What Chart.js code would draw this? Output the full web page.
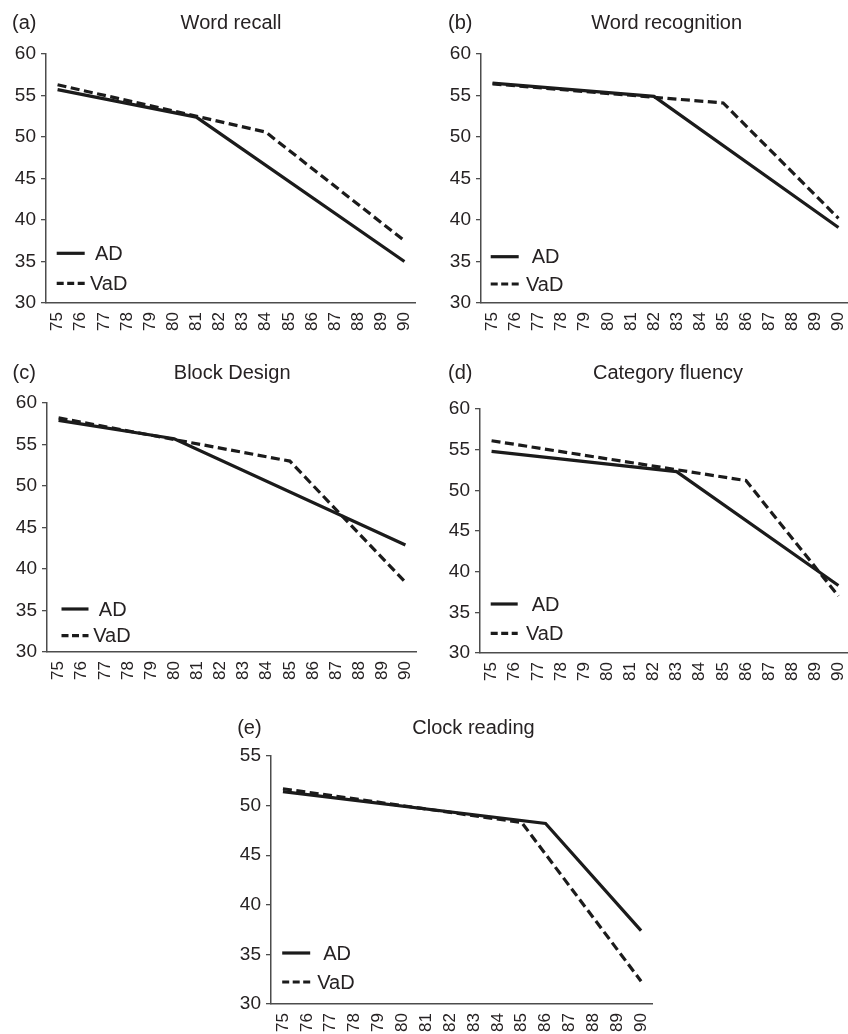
<!DOCTYPE html>
<html>
<head>
<meta charset="utf-8">
<script src="https://cdn.jsdelivr.net/npm/chart.js@4.4.1/dist/chart.umd.min.js"></script>
<style>
  html, body { margin: 0; padding: 0; background: #fff; overflow: hidden; }
  #page { position: relative; width: 848px; height: 1034px; }
  #page canvas { position: absolute; }
</style>
</head>
<body>
<div id="page"></div>
<script>
// ages on the x axis
const ages = ["75", "76", "77", "78", "79", "80", "81", "82", "83", "84", "85", "86", "87", "88", "89", "90"];
const _ = null;

// values read at the change points only, straight segments join them
//                  75 76 77 78 79 80 81    82    83    84    85    86    87 88 89 90
const recallAD   = [55.7, _, _, _, _, _, 52.4, _,    _,    _,    _,    _,    _, _, _, 35.0];
const recallVaD  = [56.3, _, _, _, _, _, _,    _,    _,    50.6, _,    _,    _, _, _, 37.5];
const recogAD    = [56.5, _, _, _, _, _, _,    54.9, _,    _,    _,    _,    _, _, _, 39.1];
const recogVaD   = [56.4, _, _, _, _, _, _,    _,    _,    _,    54.1, _,    _, _, _, 40.2];
const blockAD    = [57.9, _, _, _, _, 55.7, _, _,    _,    _,    _,    _,    _, _, _, 42.9];
const blockVaD   = [58.2, _, _, _, _, _, _,    _,    _,    _,    53.0, _,    _, _, _, 38.4];
const fluencyAD  = [54.8, _, _, _, _, _, _,    _,    52.3, _,    _,    _,    _, _, _, 38.3];
const fluencyVaD = [56.1, _, _, _, _, _, _,    _,    _,    _,    _,    51.2, _, _, _, 37.0];
const clockAD    = [51.4, _, _, _, _, _, _,    _,    _,    _,    _,    48.2, _, _, _, 37.4];
const clockVaD   = [51.7, _, _, _, _, _, _,    _,    _,    _,    48.3, _,    _, _, _, 32.3];

const seriesNames = ["AD", "VaD"];
const yTicks = [30, 35, 40, 45, 50, 55, 60];

const INK = "#1b1b1b";
const TEXT = "#262223";
const AXIS = "#4d4d4d";
const FONT = "'Liberation Sans', Arial, Helvetica, sans-serif";
const DASH = [9, 4.5];

const Y_W = 46;   // room for y tick labels
const X_H = 40;   // room for rotated x labels
const TOP = 54;   // room above plot for the title

// page positions (chart area, title, letter, legend) per panel
const panels = [
  { letter: "(a)", title: "Word recall", ad: recallAD, vad: recallVaD, yMax: 60,
    area: { l: 46, t: 54, r: 415.6, b: 303 }, titleX: 231, titleY: 23, letterX: 12,
    leg: { x: 56.7, len: 28, adY: 253.3, adX: 95, vadY: 283.3, vadX: 90 } },
  { letter: "(b)", title: "Word recognition", ad: recogAD, vad: recogVaD, yMax: 60,
    area: { l: 481, t: 54, r: 850, b: 303 }, titleX: 666.7, titleY: 23, letterX: 448,
    leg: { x: 490.7, len: 28, adY: 256.7, adX: 531.7, vadY: 284, vadX: 526 } },
  { letter: "(c)", title: "Block Design", ad: blockAD, vad: blockVaD, yMax: 60,
    area: { l: 46.5, t: 403.3, r: 416.5, b: 652.7 }, titleX: 231.7, titleY: 373.3, letterX: 12,
    leg: { x: 61, len: 27, adY: 609.3, adX: 98.3, vadY: 636, vadX: 92.7 } },
  { letter: "(d)", title: "Category fluency", ad: fluencyAD, vad: fluencyVaD, yMax: 60,
    area: { l: 480, t: 409, r: 850, b: 652.7 }, titleX: 668, titleY: 373, letterX: 448,
    leg: { x: 490.7, len: 27, adY: 604, adX: 531.7, vadY: 633.3, vadX: 526 } },
  { letter: "(e)", title: "Clock reading", ad: clockAD, vad: clockVaD, yMax: 55,
    area: { l: 270.5, t: 755.7, r: 652, b: 1003.3 }, titleX: 473, titleY: 728, letterX: 236.7,
    leg: { x: 281.7, len: 28, adY: 952.7, adX: 322.7, vadY: 981.7, vadX: 316.7 } },
];

// titles, panel letters and the in-plot legend
const decorPlugin = {
  id: "decor",
  afterDraw(chart) {
    const p = chart.options.plugins.decor;
    const ox = p.ox, oy = p.oy;
    const ctx = chart.ctx;
    ctx.save();
    ctx.fillStyle = TEXT;
    ctx.textBaseline = "middle";
    ctx.font = "20px " + FONT;
    ctx.textAlign = "left";
    ctx.fillText(p.letter, p.letterX - ox, p.titleY - oy);
    ctx.textAlign = "center";
    ctx.fillText(p.title, p.titleX - ox, p.titleY - oy);

    const lg = p.leg;
    ctx.strokeStyle = INK;
    ctx.lineWidth = 3.2;
    ctx.beginPath();
    ctx.moveTo(lg.x - ox, lg.adY - oy);
    ctx.lineTo(lg.x + lg.len - ox, lg.adY - oy);
    ctx.stroke();
    ctx.setLineDash([7, 3.5]);
    ctx.beginPath();
    ctx.moveTo(lg.x - ox, lg.vadY - oy);
    ctx.lineTo(lg.x + lg.len - ox, lg.vadY - oy);
    ctx.stroke();
    ctx.setLineDash([]);
    ctx.textAlign = "left";
    ctx.font = "20px " + FONT;
    ctx.fillText(seriesNames[0], lg.adX - ox, lg.adY - oy + 1);
    ctx.fillText(seriesNames[1], lg.vadX - ox, lg.vadY - oy + 1);
    ctx.restore();
  }
};

const page = document.getElementById("page");

panels.forEach(function (p) {
  const a = p.area;
  const left = a.l - Y_W;
  const top = a.t - TOP;
  const w = Math.round(a.r - left);
  const h = Math.round(a.b - top + X_H);

  const canvas = document.createElement("canvas");
  canvas.width = w;
  canvas.height = h;
  canvas.style.left = left + "px";
  canvas.style.top = top + "px";
  canvas.style.width = w + "px";
  canvas.style.height = h + "px";
  page.appendChild(canvas);

  new Chart(canvas.getContext("2d"), {
    type: "line",
    data: {
      labels: ages,
      datasets: [
        {
          label: seriesNames[0],
          data: p.ad,
          borderColor: INK,
          borderWidth: 3.2,
          pointRadius: 0,
          spanGaps: true,
          tension: 0,
          fill: false,
        },
        {
          label: seriesNames[1],
          data: p.vad,
          borderColor: INK,
          borderWidth: 3.2,
          borderDash: DASH,
          pointRadius: 0,
          spanGaps: true,
          tension: 0,
          fill: false,
        },
      ],
    },
    options: {
      responsive: false,
      animation: false,
      devicePixelRatio: 1,
      layout: { padding: { top: TOP, right: 0, left: 0, bottom: 0 } },
      plugins: {
        legend: { display: false },
        tooltip: { enabled: false },
        decor: {
          letter: p.letter, title: p.title, titleX: p.titleX, titleY: p.titleY,
          letterX: p.letterX, leg: p.leg, ox: left, oy: top,
        },
      },
      scales: {
        x: {
          offset: true,
          grid: { display: false, drawTicks: false },
          border: { display: true, color: AXIS, width: 1.5 },
          ticks: {
            autoSkip: false,
            minRotation: 90,
            maxRotation: 90,
            padding: 9,
            color: TEXT,
            font: { family: FONT, size: 17 },
          },
          afterFit(scale) {
            scale.height = X_H;
            scale.paddingLeft = 0;
            scale.paddingRight = 0;
          },
        },
        y: {
          min: 30,
          max: p.yMax,
          afterBuildTicks(scale) {
            scale.ticks = yTicks.filter(v => v <= p.yMax).map(v => ({ value: v }));
          },
          grid: { drawOnChartArea: false, drawTicks: true, tickLength: 5, color: AXIS, lineWidth: 1.3 },
          border: { display: true, color: AXIS, width: 1.5 },
          ticks: {
            padding: 5,
            color: TEXT,
            font: { family: FONT, size: 19 },
          },
          afterFit(scale) {
            scale.width = Y_W;
            scale.paddingTop = 0;
            scale.paddingBottom = 0;
          },
        },
      },
    },
    plugins: [decorPlugin],
  });
});
</script>
</body>
</html>
